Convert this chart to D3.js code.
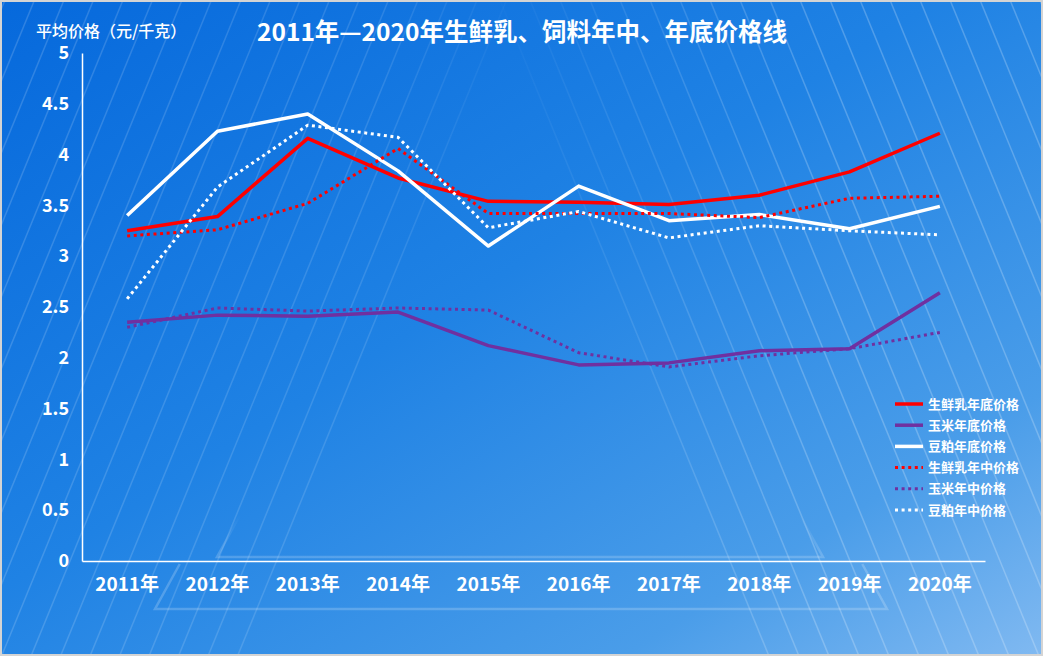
<!DOCTYPE html>
<html>
<head>
<meta charset="utf-8">
<script src="https://cdn.jsdelivr.net/npm/d3@7"></script>
<style>
  body { margin: 0; background: #fff; }
  svg { display: block; }
  text { font-family: "Noto Sans CJK SC", "Microsoft YaHei", sans-serif; fill: #fff; }
</style>
</head>
<body>
<div id="chart"></div>
<script>
// data
const years = ["2011年", "2012年", "2013年", "2014年", "2015年", "2016年", "2017年", "2018年", "2019年", "2020年"]
const milkEnd = [3.25, 3.39, 4.16, 3.77, 3.54, 3.53, 3.51, 3.60, 3.83, 4.21]
const cornEnd = [2.35, 2.42, 2.41, 2.45, 2.12, 1.93, 1.95, 2.07, 2.09, 2.64]
const soyEnd = [3.40, 4.23, 4.40, 3.84, 3.10, 3.69, 3.35, 3.41, 3.27, 3.49]
const milkMid = [3.20, 3.26, 3.52, 4.06, 3.42, 3.42, 3.42, 3.38, 3.57, 3.59]
const cornMid = [2.30, 2.49, 2.46, 2.49, 2.47, 2.05, 1.91, 2.02, 2.09, 2.25]
const soyMid = [2.58, 3.68, 4.29, 4.17, 3.28, 3.44, 3.18, 3.30, 3.25, 3.21]
const yTicks = [0, 0.5, 1, 1.5, 2, 2.5, 3, 3.5, 4, 4.5, 5]

const series = [
  { name: "生鲜乳年底价格", values: milkEnd, color: "#ff0000", dotted: false },
  { name: "玉米年底价格", values: cornEnd, color: "#7030a0", dotted: false },
  { name: "豆粕年底价格", values: soyEnd, color: "#ffffff", dotted: false },
  { name: "生鲜乳年中价格", values: milkMid, color: "#ff0000", dotted: true },
  { name: "玉米年中价格", values: cornMid, color: "#7030a0", dotted: true },
  { name: "豆粕年中价格", values: soyMid, color: "#ffffff", dotted: true }
]

const width = 1043, height = 663
const plot = { left: 82, right: 985, top: 53, bottom: 561 }

const svg = d3.select("#chart").append("svg")
  .attr("width", width)
  .attr("height", height)

const defs = svg.append("defs")

const bg = defs.append("linearGradient")
  .attr("id", "bg")
  .attr("x1", "0").attr("y1", "0").attr("x2", "1").attr("y2", "1")
bg.append("stop").attr("offset", "0").attr("stop-color", "#0669dc")
bg.append("stop").attr("offset", "0.45").attr("stop-color", "#1f82e4")
bg.append("stop").attr("offset", "0.8").attr("stop-color", "#4a9de9")
bg.append("stop").attr("offset", "1").attr("stop-color", "#80b9f1")

// fade for the right hand stripes
const fadeR = defs.append("linearGradient")
  .attr("id", "fadeR")
  .attr("gradientUnits", "userSpaceOnUse")
  .attr("x1", 480).attr("y1", 0).attr("x2", 820).attr("y2", 0)
fadeR.append("stop").attr("offset", "0").attr("stop-color", "#fff").attr("stop-opacity", 0)
fadeR.append("stop").attr("offset", "1").attr("stop-color", "#fff").attr("stop-opacity", 0.22)

const fadeL = defs.append("linearGradient")
  .attr("id", "fadeL")
  .attr("gradientUnits", "userSpaceOnUse")
  .attr("x1", 0).attr("y1", 0).attr("x2", 540).attr("y2", 0)
fadeL.append("stop").attr("offset", "0").attr("stop-color", "#fff").attr("stop-opacity", 0.16)
fadeL.append("stop").attr("offset", "0.7").attr("stop-color", "#fff").attr("stop-opacity", 0.12)
fadeL.append("stop").attr("offset", "1").attr("stop-color", "#fff").attr("stop-opacity", 0)

const fadeUp = defs.append("linearGradient")
  .attr("id", "fadeUp")
  .attr("gradientUnits", "userSpaceOnUse")
  .attr("x1", 0).attr("y1", 515).attr("x2", 0).attr("y2", 560)
fadeUp.append("stop").attr("offset", "0").attr("stop-color", "#fff").attr("stop-opacity", 0)
fadeUp.append("stop").attr("offset", "1").attr("stop-color", "#fff").attr("stop-opacity", 0.2)

defs.append("clipPath").attr("id", "frame")
  .append("rect").attr("x", 2).attr("y", 2).attr("width", 1039).attr("height", 652)

// background panel
svg.append("rect")
  .attr("x", 1).attr("y", 1)
  .attr("width", 1041).attr("height", 654)
  .attr("fill", "url(#bg)")
  .attr("stroke", "#d4d4d4")
  .attr("stroke-width", 2)

const deco = svg.append("g").attr("clip-path", "url(#frame)")

const slant = 0.41
const leftStripes = d3.range(-290, 530, 29.5)
const rightStripes = d3.range(500, 1110, 30)

deco.selectAll(".stripe-l")
  .data(leftStripes)
  .enter().append("line")
  .attr("class", "stripe-l")
  .attr("x1", d => d).attr("y1", 0)
  .attr("x2", d => d - slant * 660).attr("y2", 660)
  .attr("stroke", "url(#fadeL)")
  .attr("stroke-width", 1.5)

deco.selectAll(".stripe-r")
  .data(rightStripes)
  .enter().append("line")
  .attr("class", "stripe-r")
  .attr("x1", d => d).attr("y1", 0)
  .attr("x2", d => d + slant * 660).attr("y2", 660)
  .attr("stroke", "url(#fadeR)")
  .attr("stroke-width", 1.5)

// two faint stage outlines at the bottom
const stages = [
  { y: 557, x0: 217, x1: 823 },
  { y: 609, x0: 155, x1: 887 }
]
deco.selectAll(".stage")
  .data(stages)
  .enter().append("path")
  .attr("class", "stage")
  .attr("d", d => {
    const h = 45
    return `M${d.x0 + h * 0.55},${d.y - h}L${d.x0},${d.y}L${d.x1},${d.y}L${d.x1 - h * 0.55},${d.y - h}`
  })
  .attr("fill", "none")
  .attr("stroke", (d, i) => i === 0 ? "url(#fadeUp)" : "rgba(255,255,255,0.2)")
  .attr("stroke-width", 2.5)

// scales
const xScale = d3.scaleBand()
  .domain(years)
  .range([plot.left, plot.right])

const yScale = d3.scaleLinear()
  .domain([0, 5])
  .range([plot.bottom, plot.top])

const xAxis = d3.axisBottom(xScale)
  .tickSize(0)
  .tickPadding(17)

const yAxis = d3.axisLeft(yScale)
  .tickValues(yTicks)
  .tickFormat(d => String(d))
  .tickSize(0)
  .tickPadding(13)

const xAxisG = svg.append("g")
  .attr("transform", "translate(0," + plot.bottom + ")")
  .call(xAxis)
xAxisG.select(".domain").attr("stroke", "#fff").attr("stroke-width", 1.5)
xAxisG.selectAll("text")
  .attr("fill", "#fff")
  .style("font-size", "19px")
  .style("font-weight", "bold")

const yAxisG = svg.append("g")
  .attr("transform", "translate(" + plot.left + ",0)")
  .call(yAxis)
yAxisG.select(".domain").attr("stroke", "#fff").attr("stroke-width", 1.5)
yAxisG.selectAll("text")
  .attr("fill", "#fff")
  .style("font-size", "18px")
  .style("font-weight", "bold")

// lines
const line = d3.line()
  .x((d, i) => xScale(years[i]) + xScale.bandwidth() / 2)
  .y(d => yScale(d))

svg.append("g").selectAll("path")
  .data(series)
  .enter().append("path")
  .attr("d", d => line(d.values))
  .attr("fill", "none")
  .attr("stroke", d => d.color)
  .attr("stroke-width", d => d.dotted ? 3 : 3.5)
  .attr("stroke-dasharray", d => d.dotted ? "3 3.6" : null)
  .attr("stroke-linejoin", "round")

// titles
svg.append("text")
  .attr("x", 522)
  .attr("y", 41)
  .attr("text-anchor", "middle")
  .style("font-size", "24.5px")
  .style("font-weight", "bold")
  .text("2011年—2020年生鲜乳、饲料年中、年底价格线")

svg.append("text")
  .attr("x", 36)
  .attr("y", 37)
  .style("font-size", "16px")
  .style("font-weight", "500")
  .text("平均价格（元/千克）")

// legend
const legend = svg.append("g")
  .attr("transform", "translate(895,404)")

const key = legend.selectAll(".key")
  .data(series)
  .enter().append("g")
  .attr("class", "key")
  .attr("transform", (d, i) => `translate(0,${i * 21.2})`)

key.append("line")
  .attr("x1", 0).attr("x2", 28)
  .attr("stroke", d => d.color)
  .attr("stroke-width", d => d.dotted ? 3 : 3.5)
  .attr("stroke-dasharray", d => d.dotted ? "3 3.6" : null)

key.append("text")
  .attr("x", 33)
  .attr("dy", "0.35em")
  .style("font-size", "13px")
  .style("font-weight", "bold")
  .text(d => d.name)
</script>
</body>
</html>
